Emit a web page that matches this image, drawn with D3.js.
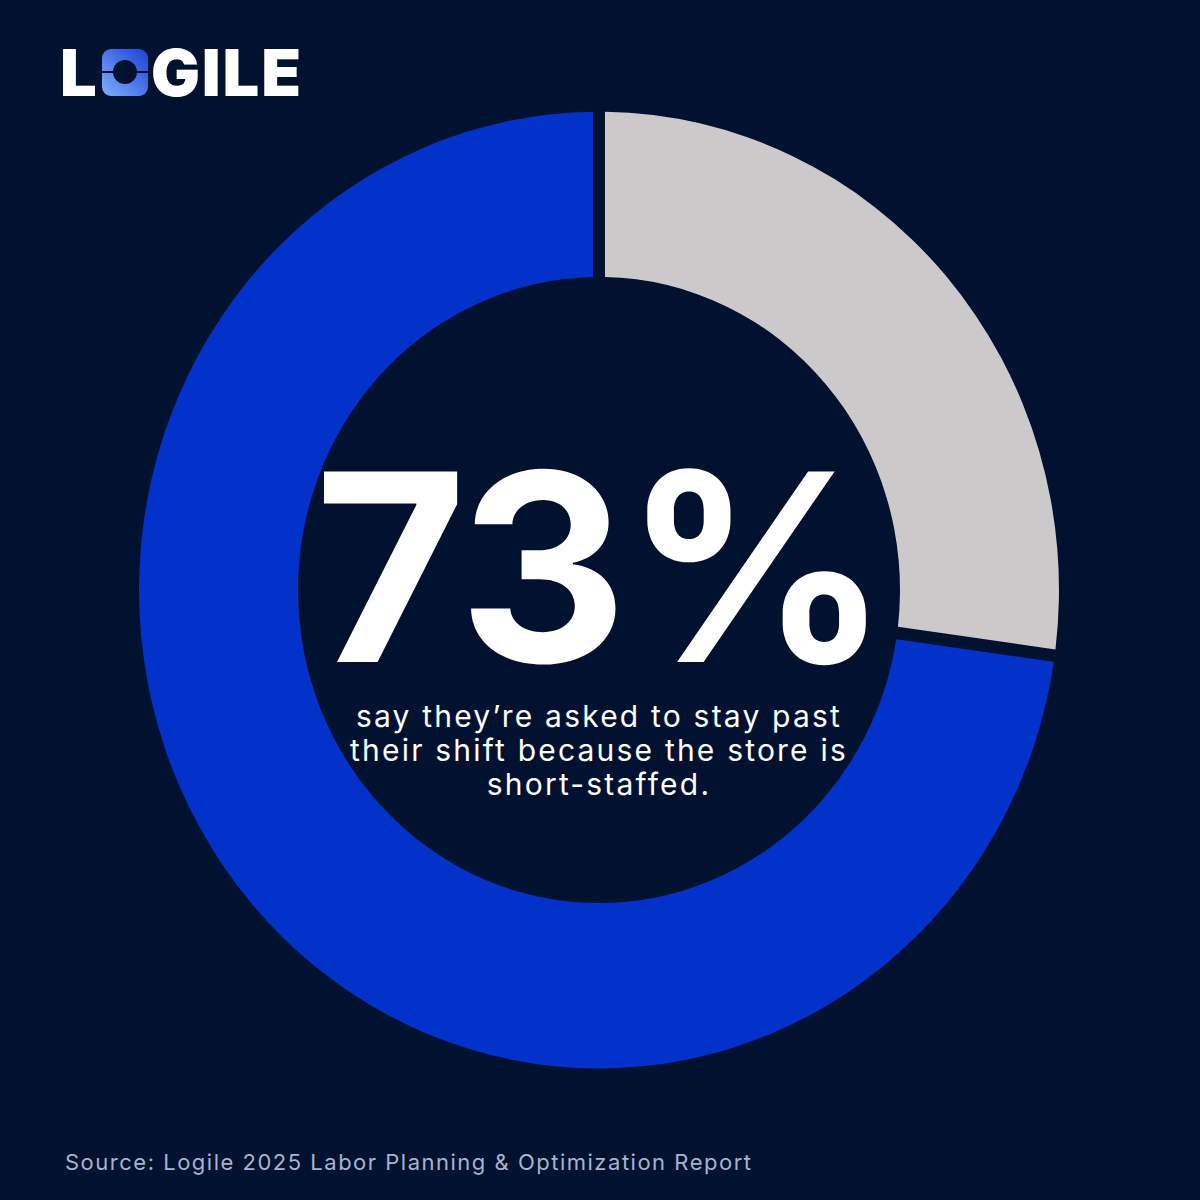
<!DOCTYPE html>
<html>
<head>
<meta charset="utf-8">
<script src="https://cdn.jsdelivr.net/npm/d3@7"></script>
<style>
  html, body { margin: 0; padding: 0; background: #011230; }
  svg { display: block; }
</style>
</head>
<body>
<div id="chart-area"></div>
<script>
const WIDTH = 1200
const HEIGHT = 1200

// data: order is clockwise from 12 o'clock
const segments = ["Not asked", "Asked to stay past shift"]
const shares = [27, 73]
const colors = ["#cbc9ca", "#0232ca"]

const headline = "73%"
const subLines = ["say they\u2019re asked to stay past", "their shift because the store is", "short-staffed."]
const sourceNote = "Source: Logile 2025 Labor Planning & Optimization Report"

const svg = d3.select("#chart-area").append("svg")
  .attr("width", WIDTH)
  .attr("height", HEIGHT)
  .attr("viewBox", [0, 0, WIDTH, HEIGHT])

svg.append("rect")
  .attr("width", WIDTH)
  .attr("height", HEIGHT)
  .attr("fill", "#011230")

// Donut
const OUTER = 460
const INNER = 301
const GAP = 12

const pie = d3.pie()
  .sort(null)
  .value(d => d.value)
  .padAngle(GAP / OUTER)

const arc = d3.arc()
  .innerRadius(INNER)
  .outerRadius(OUTER)
  .padRadius(OUTER)

const cScale = d3.scaleOrdinal()
  .domain(segments)
  .range(colors)

const pieData = segments.map((s, i) => ({ name: s, value: shares[i] }))

const donut = svg.append("g")
  .attr("transform", "translate(599,590) scale(1,1.04)")

donut.selectAll("path")
  .data(pie(pieData))
  .join("path")
  .attr("d", arc)
  .attr("fill", d => cScale(d.data.name))
  .append("title")
  .text(d => d.data.name + ": " + d.data.value + "%")

// Big number
svg.append("text")
  .attr("x", 600)
  .attr("y", 662)
  .attr("text-anchor", "middle")
  .attr("fill", "#ffffff")
  .style("font-family", "Inter, 'DejaVu Sans', sans-serif")
  .style("font-weight", 700)
  .style("font-size", "262px")
  .style("letter-spacing", "-4px")
  .text(headline)

svg.selectAll(".sub")
  .data(subLines)
  .join("text")
  .attr("class", "sub")
  .attr("x", 599)
  .attr("y", (d, i) => 727 + i * 34)
  .attr("text-anchor", "middle")
  .attr("fill", "#ffffff")
  .style("font-family", "Inter, 'DejaVu Sans', sans-serif")
  .style("font-weight", 400)
  .style("font-size", "30px")
  .style("letter-spacing", "2.2px")
  .text(d => d)

// Source
svg.append("text")
  .attr("x", 65)
  .attr("y", 1170)
  .attr("fill", "#a7b3cf")
  .attr("textLength", 686)
  .attr("lengthAdjust", "spacing")
  .style("font-family", "Inter, 'DejaVu Sans', sans-serif")
  .style("font-size", "22px")
  .text(sourceNote)

// Logo
const logo = svg.append("g")
const grad = svg.append("defs").append("linearGradient")
  .attr("id", "logoGrad")
  .attr("x1", "0").attr("y1", "1").attr("x2", "1").attr("y2", "0")
grad.append("stop").attr("offset", "0%").attr("stop-color", "#7fb0fb")
grad.append("stop").attr("offset", "100%").attr("stop-color", "#1c3fd6")

logo.append("text")
  .attr("x", 60)
  .attr("y", 96)
  .attr("fill", "#ffffff")
  .style("font-family", "Inter, 'DejaVu Sans', sans-serif")
  .style("font-weight", 900)
  .style("font-size", "65px")
  .text("L")

logo.append("rect")
  .attr("x", 102).attr("y", 49)
  .attr("width", 46).attr("height", 47)
  .attr("rx", 9)
  .attr("fill", "url(#logoGrad)")
logo.append("rect")
  .attr("x", 102).attr("y", 71)
  .attr("width", 46).attr("height", 2)
  .attr("fill", "#011230")
logo.append("circle")
  .attr("cx", 125).attr("cy", 72)
  .attr("r", 12)
  .attr("fill", "#011230")

logo.append("text")
  .attr("x", 151)
  .attr("y", 96)
  .attr("fill", "#ffffff")
  .attr("textLength", 150)
  .attr("lengthAdjust", "spacing")
  .style("font-family", "Inter, 'DejaVu Sans', sans-serif")
  .style("font-weight", 900)
  .style("font-size", "65px")
  .text("GILE")
</script>
</body>
</html>
